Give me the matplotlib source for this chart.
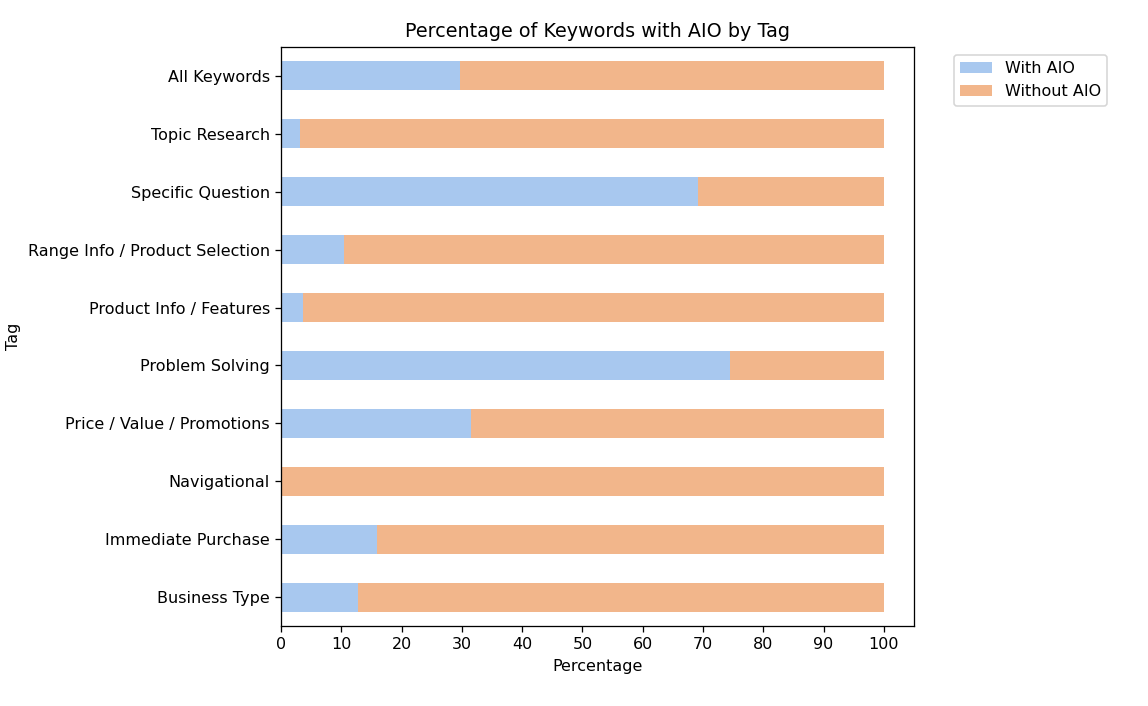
"""Stacked horizontal bars: share of keywords with / without AIO per tag."""
import matplotlib
matplotlib.use('Agg')
import matplotlib.pyplot as plt
import pandas as pd

# === DATA (bottom to top, as pandas draws barh) ===
tags = [
    'Business Type', 'Immediate Purchase', 'Navigational',
    'Price / Value / Promotions', 'Problem Solving', 'Product Info / Features',
    'Range Info / Product Selection', 'Specific Question', 'Topic Research',
    'All Keywords',
]
with_aio = [12.7, 15.9, 0.0, 31.5, 74.4, 3.6, 10.5, 69.2, 3.1, 29.7]
without_aio = [100 - v for v in with_aio]

df = pd.DataFrame({'With AIO': with_aio, 'Without AIO': without_aio}, index=tags)
df.index.name = 'Tag'

# === CHART ===
dpi = 115
fig = plt.figure(figsize=(1148 / dpi, 706 / dpi), dpi=dpi)
ax = fig.add_axes([0.2448, 0.1133, 0.5514, 0.8201])
df.plot(kind='barh', stacked=True, ax=ax, color=['#a8c8ef', '#f2b68b'], width=0.5)

ax.set_title('Percentage of Keywords with AIO by Tag', fontsize=12)
ax.set_xlabel('Percentage')
ax.set_ylabel('Tag')
ax.set_xticks(range(0, 101, 10))
ax.legend(loc='upper left', bbox_to_anchor=(1.05, 1))

plt.savefig('out.png', dpi=dpi)
print("Saved to out.png")
